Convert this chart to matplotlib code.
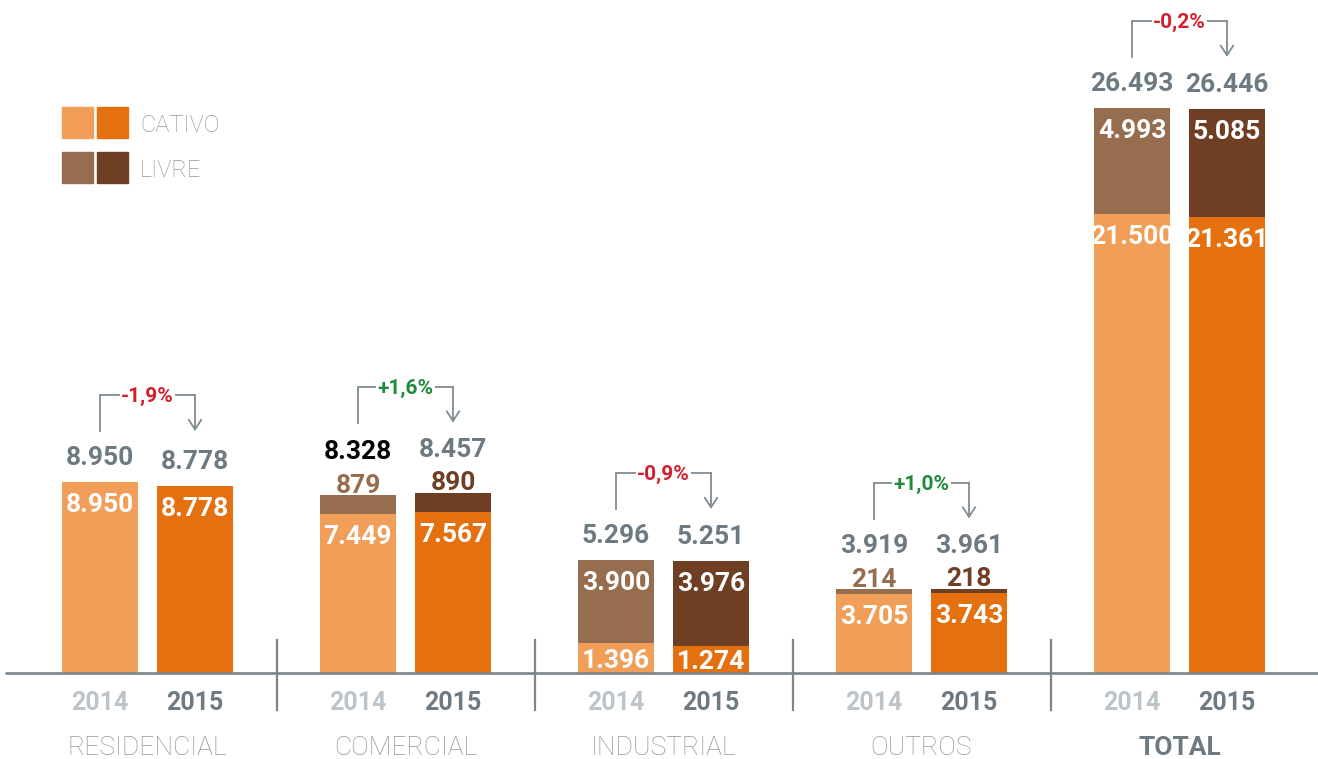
import matplotlib
matplotlib.use("Agg")
import matplotlib.pyplot as plt
from matplotlib.patches import Rectangle

# ---- data ----
categories = ["RESIDENCIAL", "COMERCIAL", "INDUSTRIAL", "OUTROS", "TOTAL"]
years = ["2014", "2015"]
cativo_2014 = [8950, 7449, 1396, 3705, 21500]
cativo_2015 = [8778, 7567, 1274, 3743, 21361]
livre_2014 = [0, 879, 3900, 214, 4993]
livre_2015 = [0, 890, 3976, 218, 5085]
total_2014 = [8950, 8328, 5296, 3919, 26493]
total_2015 = [8778, 8457, 5251, 3961, 26446]
cativo_lbl_2014 = ["8.950", "7.449", "1.396", "3.705", "21.500"]
cativo_lbl_2015 = ["8.778", "7.567", "1.274", "3.743", "21.361"]
livre_lbl_2014 = ["", "879", "3.900", "214", "4.993"]
livre_lbl_2015 = ["", "890", "3.976", "218", "5.085"]
total_lbl_2014 = ["8.950", "8.328", "5.296", "3.919", "26.493"]
total_lbl_2015 = ["8.778", "8.457", "5.251", "3.961", "26.446"]
changes = ["-1,9%", "+1,6%", "-0,9%", "+1,0%", "-0,2%"]

# ---- style ----
C_CAT = ["#F09E58", "#E5700F"]
C_LIV = ["#966E4F", "#6E3F23"]
GRAY = "#6E7A82"
LGRAY = "#BCC4CA"
CATGRAY = "#8E99A0"
LINEGRAY = "#808B92"
RED = "#D21F2C"
GREEN = "#1E8A3C"
FONT = ["Roboto", "DejaVu Sans"]

W, H = 1318, 759
fig = plt.figure(figsize=(W / 100, H / 100), dpi=100)
ax = fig.add_axes([0, 0, 1, 1])
ax.axis("off")

BASE_PX = 673
K = 565 / 26493.0           # px per unit
PX = 1 / K                  # units per px
DY = 3 * PX                 # visual centering correction for text
ax.set_xlim(0, W)
ax.set_ylim(-(H - BASE_PX) * PX, BASE_PX * PX)

group_w = 258
first_center = 147.5
bar_off = 47.5
bar_w = 76

cat = [cativo_2014, cativo_2015]
liv = [livre_2014, livre_2015]
tot = [total_2014, total_2015]
clbl = [cativo_lbl_2014, cativo_lbl_2015]
llbl = [livre_lbl_2014, livre_lbl_2015]
tlbl = [total_lbl_2014, total_lbl_2015]

# baseline & separators
ax.plot([5, W], [0, 0], color="#7A858C", lw=1.9, zorder=3, solid_capstyle="butt")
for i in range(1, len(categories)):
    xs = first_center + group_w * i - group_w / 2
    ax.plot([xs, xs], [-(710 - BASE_PX) * PX, (BASE_PX - 640) * PX],
            color="#7A858C", lw=1.6, zorder=3)

for g in range(len(categories)):
    gc = first_center + group_w * g
    label_ys = []
    for j in range(2):
        x = gc + (j * 2 - 1) * bar_off
        c = cat[j][g]
        l = liv[j][g]
        ax.bar(x, c, width=bar_w, color=C_CAT[j], zorder=2)
        if l > 0:
            ax.bar(x, l, bottom=c, width=bar_w, color=C_LIV[j], zorder=2)
        # cativo label
        hpx = c * K
        off = min(20, hpx / 2)
        ax.text(x, c - off * PX - DY, clbl[j][g], ha="center", va="center",
                color="white", fontsize=19, fontweight="bold", family=FONT, zorder=4)
        top = c + l
        small = False
        if l > 0:
            if l * K < 40:
                small = True
                ax.text(x, top + 2.5 * PX, llbl[j][g], ha="center", va="baseline",
                        color=C_LIV[j], fontsize=19, fontweight="bold", family=FONT, zorder=4)
            else:
                ax.text(x, top - 20 * PX - DY, llbl[j][g], ha="center", va="center",
                        color="white", fontsize=19, fontweight="bold", family=FONT, zorder=4)
        ty = top + (46 if small else 27) * PX
        label_ys.append(ty)
        tcolor = "#000000" if (g == 1 and j == 0) else GRAY
        ax.text(x, ty - DY, tlbl[j][g], ha="center", va="center",
                color=tcolor, fontsize=19, fontweight="bold", family=FONT, zorder=4)
        # year label
        ax.text(x, -(700 - BASE_PX) * PX - DY, years[j], ha="center", va="center",
                color=LGRAY if j == 0 else GRAY, fontsize=18, fontweight="bold",
                family=FONT)
    # category label
    ax.text(gc, -(745 - BASE_PX) * PX - DY, categories[g], ha="center", va="center",
            color=GRAY if g == len(categories) - 1 else CATGRAY, fontsize=19,
            fontweight="bold" if g == len(categories) - 1 else "light", family=FONT)
    # change bracket
    btop = max(label_ys) + 60 * PX
    bbot = btop - 36 * PX
    x1 = gc - bar_off
    x2 = gc + bar_off
    ax.plot([x1, x1, x2], [bbot, btop, btop], color=LINEGRAY, lw=1.3, zorder=3,
            solid_joinstyle="miter")
    ax.annotate("", xy=(x2, bbot), xytext=(x2, btop),
                arrowprops=dict(arrowstyle="->,head_length=0.7,head_width=0.45",
                                color=LINEGRAY, lw=1.3, shrinkA=0, shrinkB=0), zorder=3)
    ax.text(gc, btop - 1.5 * PX, changes[g], ha="center", va="center",
            color=RED if changes[g].startswith("-") else GREEN, fontsize=15,
            fontweight="bold", family=FONT, zorder=5,
            bbox=dict(facecolor="white", edgecolor="none", pad=1.0))

# legend
for row, (cols, name) in enumerate([(C_CAT, "CATIVO"), (C_LIV, "LIVRE")]):
    y0 = 107 + 45 * row
    for k_, col in enumerate(cols):
        fig.patches.append(Rectangle(((62 + 35 * k_) / W, 1 - (y0 + 31) / H), 31 / W, 31 / H,
                                     transform=fig.transFigure, color=col))
    fig.text(140 / W, 1 - (y0 + 18) / H, name, ha="left", va="center",
             color=CATGRAY, fontsize=17, fontweight="light", family=FONT)

fig.savefig("out.png", dpi=100)
